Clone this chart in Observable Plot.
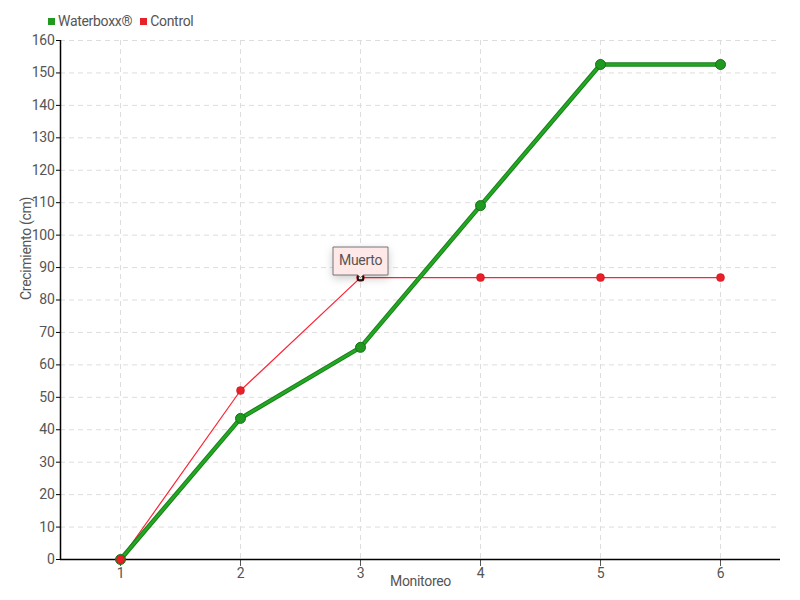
<!DOCTYPE html>
<html>
<head>
<meta charset="utf-8">
<script src="https://cdn.jsdelivr.net/npm/d3@7"></script>
<script src="https://cdn.jsdelivr.net/npm/@observablehq/plot@0.6"></script>
<style>
  html, body { margin: 0; padding: 0; background: #fff; }
  #wrap { position: relative; width: 800px; height: 600px; font-family: Roboto, "Liberation Sans", sans-serif; }
  #wrap svg text { letter-spacing: -0.3px; }
  #legend { position: absolute; left: 48px; top: 13px; font-size: 14px; color: #555; display: flex; align-items: center; letter-spacing: -0.3px; }
  #legend .sw { display: inline-block; width: 7px; height: 7px; margin-right: 3px; }
  #legend .item { display: flex; align-items: center; margin-right: 8px; }
</style>
</head>
<body>
<div id="wrap">
  <div id="legend"></div>
</div>
<script>
const monitoreo = [1, 2, 3, 4, 5, 6];
const waterboxx = [0, 43.5, 65.4, 109.1, 152.6, 152.6];
const control = [0, 52.1, 86.9, 86.9, 86.9, 86.9];
const seriesNames = ["Waterboxx®", "Control"];
const seriesColors = ["#1f9a1f", "#e8202a"];
const yTicks = d3.range(0, 161, 10);
const annotation = [{x: 3, y: 86.9, label: "Muerto"}];

const wb = monitoreo.map((m, i) => ({x: m, y: waterboxx[i]}));
const ct = monitoreo.map((m, i) => ({x: m, y: control[i]}));

const font = 'Roboto, "Liberation Sans", sans-serif';

const chart = Plot.plot({
  width: 800,
  height: 600,
  marginLeft: 60,
  marginRight: 20,
  marginTop: 40,
  marginBottom: 41,
  style: {fontFamily: font, fontSize: "14px", color: "#555", background: "#fff"},
  x: {domain: [0.5, 6.5], ticks: monitoreo, label: null},
  y: {domain: [0, 160], ticks: yTicks, label: null},
  marks: [
    Plot.gridY(yTicks, {stroke: "#ddd", strokeOpacity: 1, strokeDasharray: "5,4"}),
    Plot.gridX(monitoreo, {stroke: "#ddd", strokeOpacity: 1, strokeDasharray: "5,4"}),
    Plot.axisY({ticks: yTicks, tickSize: 4, tickPadding: 2, stroke: "#000", fill: "#555", fontSize: 14, label: null}),
    Plot.axisX({ticks: monitoreo, tickFormat: "d", tickSize: 7, tickPadding: 2, stroke: "#555", fill: "#555", fontSize: 14, label: null}),
    Plot.ruleX([0.5], {stroke: "#000", strokeWidth: 1.5}),
    Plot.ruleY([0], {stroke: "#000", strokeWidth: 1.5}),
    Plot.line(ct, {x: "x", y: "y", stroke: "#ff2233", strokeWidth: 1.2}),
    Plot.line(wb, {x: "x", y: "y", stroke: "#1a7f1a", strokeWidth: 4.5}),
    Plot.line(wb, {x: "x", y: "y", stroke: "#22a822", strokeWidth: 2.5}),
    Plot.dot(wb, {x: "x", y: "y", r: 5, fill: "#1f9a1f", stroke: "#177317", strokeWidth: 1}),
    Plot.dot(ct, {x: "x", y: "y", r: 4, fill: "#e8202a", stroke: "#c01018", strokeWidth: 0.5}),
    Plot.dot(annotation, {x: "x", y: "y", symbol: "square", r: 2.8, fill: "#fff", stroke: "#000", strokeWidth: 1.5}),
    Plot.tip(annotation, {x: "x", y: "y", title: "label", anchor: "bottom", fill: "#ffe8e8", stroke: "#777", fontSize: 14, pointerSize: 5, textPadding: 6}),
    Plot.text(["Monitoreo"], {frameAnchor: "bottom", dy: 26, fill: "#555", fontSize: 14}),
    Plot.text(["Crecimiento (cm)"], {frameAnchor: "left", dx: -34, rotate: -90, fill: "#555", fontSize: 14})
  ]
});
document.getElementById("wrap").appendChild(chart);

const legend = document.getElementById("legend");
seriesNames.forEach((n, i) => {
  const item = document.createElement("span");
  item.className = "item";
  const sw = document.createElement("span");
  sw.className = "sw";
  sw.style.background = seriesColors[i];
  item.appendChild(sw);
  item.appendChild(document.createTextNode(n));
  legend.appendChild(item);
});
</script>
</body>
</html>
